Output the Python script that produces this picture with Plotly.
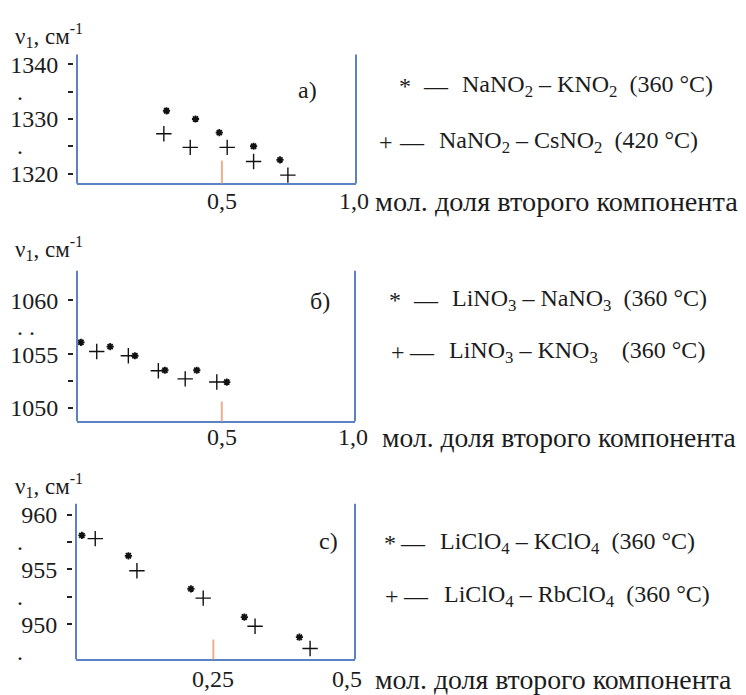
import plotly.graph_objects as go

# ---------------- data ----------------
# panel a) NaNO2 - KNO2 (*), NaNO2 - CsNO2 (+)
a_star_x = [0.29, 0.40, 0.49, 0.62, 0.72]
a_star_y = [1331.5, 1330.0, 1327.5, 1325.0, 1322.5]
a_plus_x = [0.28, 0.38, 0.52, 0.62, 0.75]
a_plus_y = [1327.3, 1324.8, 1324.8, 1322.2, 1319.7]
# panel б) LiNO3 - NaNO3 (*), LiNO3 - KNO3 (+)
b_star_x = [-0.035, 0.076, 0.17, 0.284, 0.405, 0.519]
b_star_y = [1056.1, 1055.7, 1054.85, 1053.5, 1053.5, 1052.4]
b_plus_x = [0.025, 0.145, 0.259, 0.361, 0.481]
b_plus_y = [1055.25, 1054.85, 1053.45, 1052.7, 1052.4]
# panel c) LiClO4 - KClO4 (*), LiClO4 - RbClO4 (+)
c_star_x = [0.004, 0.091, 0.208, 0.308, 0.411]
c_star_y = [958.1, 956.24, 953.22, 950.66, 948.82]
c_plus_x = [0.029, 0.107, 0.231, 0.328, 0.431]
c_plus_y = [957.8, 954.88, 952.38, 949.82, 947.79]

a_ytickvals = [1320, 1325, 1330, 1335, 1340]
a_yticktext = ["1320", "", "1330", "", "1340"]
a_dots = [1315, 1325, 1335]
b_ytickvals = [1050, 1052.5, 1055, 1060]
b_yticktext = ["1050", "", "1055", "1060"]
b_dots = [1047.5, 1057.5]
c_ytickvals = [950, 952.5, 955, 957.5, 960]
c_yticktext = ["950", "", "955", "", "960"]
c_dots = [945, 947.5, 952.5, 957.5]

a_xtickvals = [0.5, 1.0]
a_xticktext = ["0,5", "1,0"]
b_xtickvals = [0.5, 1.0]
b_xticktext = ["0,5", "1,0"]
c_xtickvals = [0.25, 0.5]
c_xticktext = ["0,25", "0,5"]
a_mark = 0.5
b_mark = 0.5
c_mark = 0.25

a_legend = ["NaNO<sub>2</sub>\u00a0–\u00a0KNO<sub>2</sub>\u00a0\u00a0(360 °C)",
            "NaNO<sub>2</sub>\u00a0–\u00a0CsNO<sub>2</sub>\u00a0\u00a0(420 °C)"]
b_legend = ["LiNO<sub>3</sub>\u00a0–\u00a0NaNO<sub>3</sub>\u00a0\u00a0(360 °C)",
            "LiNO<sub>3</sub>\u00a0–\u00a0KNO<sub>3</sub>\u00a0\u00a0\u00a0\u00a0(360 °C)"]
c_legend = ["LiClO<sub>4</sub>\u00a0–\u00a0KClO<sub>4</sub>\u00a0\u00a0(360 °C)",
            "LiClO<sub>4</sub>\u00a0–\u00a0RbClO<sub>4</sub>\u00a0\u00a0(360 °C)"]
panel_tags = ["a)", "б)", "c)"]
x_title = "мол. доля второго компонента"
y_title = "ν<sub>1</sub>, см<sup>-1</sup>"

# ---------------- layout helpers ----------------
W, H = 746, 695
FONT = "Liberation Serif"
BLUE = "#5B82C3"
TXT = "#1c1c1c"
ORANGE = "#F0AE8C"
FS = 24


def fx(p):
    return p / W


def fy(p):
    return 1 - p / H


panels = [
    dict(sx=a_star_x, sy=a_star_y, px=a_plus_x, py=a_plus_y,
         xdom=(77, 356), ydom=(52, 182), xr=[-0.049, 1.008], yr=[1318.18, 1341.82],
         ytv=a_ytickvals, ytt=a_yticktext, dots=a_dots,
         xtv=a_xtickvals, xtt=a_xticktext, mark=a_mark, marklen=23,
         legend=a_legend, tag=panel_tags[0], tagpos=(307, 88),
         leg=[(405, 436, 460, 84), (386, 412, 437, 140)],
         ytitle_y=33, xtitle_x=373, xtitle_fs=28.3, xlab_y=200),
    dict(sx=b_star_x, sy=b_star_y, px=b_plus_x, py=b_plus_y,
         xdom=(77, 355), ydom=(270, 422), xr=[-0.05, 1.006], yr=[1048.74, 1062.77],
         ytv=b_ytickvals, ytt=b_yticktext, dots=b_dots,
         xtv=b_xtickvals, xtt=b_xticktext, mark=b_mark, marklen=20,
         legend=b_legend, tag=panel_tags[1], tagpos=(320, 301),
         leg=[(395, 426, 450, 300), (398, 422, 447, 352)],
         ytitle_y=248, xtitle_x=380, xtitle_fs=27.6, xlab_y=438),
    dict(sx=c_star_x, sy=c_star_y, px=c_plus_x, py=c_plus_y,
         xdom=(76, 355), ydom=(505, 662), xr=[-0.007, 0.515], yr=[946.81, 960.99],
         ytv=c_ytickvals, ytt=c_yticktext, dots=c_dots,
         xtv=c_xtickvals, xtt=c_xticktext, mark=c_mark, marklen=20,
         legend=c_legend, tag=panel_tags[2], tagpos=(328, 543),
         leg=[(390, 413, 438, 545), (392, 416, 442, 598)],
         ytitle_y=487, xtitle_x=373, xtitle_fs=27.8, xlab_y=682),
]

fig = go.Figure()
annotations = []
shapes = []
layout = {}


def note(text, x, y, xanchor="left", size=FS, xref="paper", yref="paper"):
    annotations.append(dict(text=text, xref=xref, yref=yref, x=x, y=y,
                            xanchor=xanchor, yanchor="middle", showarrow=False,
                            font=dict(family=FONT, size=size, color=TXT)))


for i, p in enumerate(panels, start=1):
    sfx = "" if i == 1 else str(i)
    xa, ya = "x" + sfx, "y" + sfx
    fig.add_trace(go.Scatter(
        x=p["sx"], y=p["sy"], xaxis=xa, yaxis=ya, mode="markers",
        marker=dict(symbol="asterisk-open", size=6, color="#111",
                    line=dict(color="#111", width=1.8)),
        showlegend=False, hoverinfo="x+y"))
    fig.add_trace(go.Scatter(
        x=p["px"], y=p["py"], xaxis=xa, yaxis=ya, mode="markers",
        marker=dict(symbol="cross-thin-open", size=11, color="#111",
                    line=dict(color="#111", width=1.4)),
        showlegend=False, hoverinfo="x+y"))

    x0, x1 = p["xdom"]
    y0, y1 = p["ydom"]
    layout["xaxis" + sfx] = dict(
        domain=[fx(x0), fx(x1)], range=p["xr"], anchor=ya,
        showgrid=False, zeroline=False, showline=True, linecolor=BLUE, linewidth=2,
        mirror=False, ticks="", showticklabels=False)
    layout["yaxis" + sfx] = dict(
        domain=[fy(y1), fy(y0)], range=p["yr"], anchor="free", position=fx(x0 - 4),
        showgrid=False, zeroline=False, showline=False,
        ticks="outside", ticklen=5, tickwidth=1.5, tickcolor="#222",
        tickmode="array", tickvals=p["ytv"], ticktext=p["ytt"],
        tickfont=dict(family=FONT, size=FS, color=TXT), ticklabelstandoff=5)

    # left and right frame lines
    for xd in (0, 1):
        shapes.append(dict(type="line", xref=xa + " domain", yref=ya + " domain",
                           x0=xd, x1=xd, y0=0, y1=1,
                           line=dict(color=BLUE, width=2)))
    # inner orange tick
    shapes.append(dict(type="line", xref=xa, yref=ya + " domain",
                       x0=p["mark"], x1=p["mark"], y0=0, y1=p["marklen"] / (y1 - y0),
                       line=dict(color=ORANGE, width=2)))

    # x tick labels placed on the data scale
    for v, t in zip(p["xtv"], p["xtt"]):
        note(t, v, fy(p["xlab_y"]), xanchor="center", xref=xa)

    # stray dot labels at the left
    for v in p["dots"]:
        note(".", fx(15), v, yref=ya)
    if i == 2:
        note(".", fx(27), b_dots[1], yref=ya)

    note(y_title, fx(13), fy(p["ytitle_y"]), size=23)
    note(x_title, fx(p["xtitle_x"]), fy(p["xlab_y"]), size=p["xtitle_fs"])
    note(p["tag"], fx(p["tagpos"][0]), fy(p["tagpos"][1]), xanchor="center")
    for sym, (xs, xd, xt, yl), txt in zip(["*", "+"], p["leg"], p["legend"]):
        note(sym, fx(xs), fy(yl), xanchor="center")
        note("—", fx(xd), fy(yl), xanchor="center")
        note(txt, fx(xt), fy(yl))

fig.update_layout(
    width=W, height=H, margin=dict(l=0, r=0, t=0, b=0),
    paper_bgcolor="white", plot_bgcolor="white",
    font=dict(family=FONT, size=FS, color=TXT),
    annotations=annotations, shapes=shapes, showlegend=False,
    **layout)

fig.write_html("out.html", config={"displayModeBar": False},
               post_script="document.body.style.margin='0';document.body.style.overflow='hidden';")
